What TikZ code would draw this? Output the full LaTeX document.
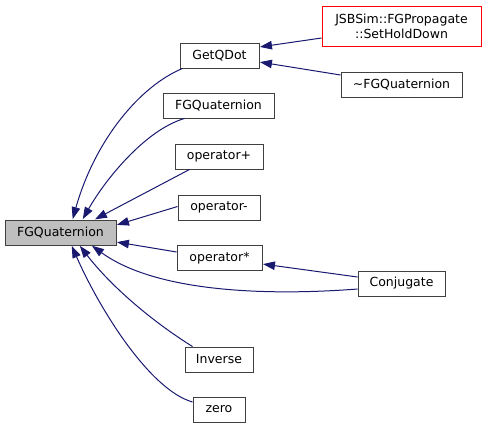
\documentclass[tikz,border=0pt]{standalone}
\usepackage{fontspec}
\setmainfont{DejaVu Sans}
\usetikzlibrary{arrows.meta}
\definecolor{edgeblue}{HTML}{191970}
\definecolor{boxgray}{HTML}{404040}
\tikzset{
  box/.style={draw=boxgray, line width=0.9pt, fill=white, inner sep=0pt, minimum height=25pt,
    font=\fontsize{12.5}{15}\selectfont, text=black, align=center},
  edge/.style={draw=edgeblue, line width=1pt, -{Triangle[length=12pt,width=8.5pt]}, shorten >=0.5pt},
}
\begin{document}
\begin{tikzpicture}[x=1pt,y=-1pt]
\useasboundingbox (0,0) rectangle (487,429);
\node[box, fill={rgb,255:red,191;green,191;blue,191}, minimum width=111pt] (fg) at (60.5,232.5) {FGQuaternion};
\node[box, minimum width=79pt] (getqdot) at (219.5,55.5) {GetQDot};
\node[box, minimum width=111pt] (fgq2) at (218.5,105.5) {FGQuaternion};
\node[box, minimum width=88pt] (opplus) at (219,156.5) {operator+};
\node[box, minimum width=82pt] (opminus) at (219,207.5) {operator-};
\node[box, minimum width=85pt] (opstar) at (219.5,258) {operator*};
\node[box, minimum width=68pt] (inverse) at (219,359.5) {Inverse};
\node[box, minimum width=52pt] (zero) at (219,409.5) {zero};
\node[box, draw=red, minimum width=159pt, minimum height=40pt] (jsb) at (401.5,26) {JSBSim::FGPropagate\\::SetHoldDown};
\node[box, minimum width=121pt] (tilde) at (401.5,84.5) {\textasciitilde FGQuaternion};
\node[box, minimum width=87pt] (conj) at (401.5,283.5) {Conjugate};

\draw[edge] ([xshift=3pt]getqdot.south west) .. controls (140,86) and (95,140) .. ([xshift=68pt]fg.north west);
\draw[edge] ([xshift=22pt]fgq2.south west) .. controls (145,130) and (105,180) .. ([xshift=78pt]fg.north west);
\draw[edge] ([xshift=15pt]opplus.south west) -- ([xshift=90pt]fg.north west);
\draw[edge] ([yshift=1pt]opminus.west) -- ([yshift=7.5pt]fg.east);
\draw[edge] ([yshift=6pt]opstar.west) -- ([yshift=-9.5pt]fg.east);
\draw[edge] ([yshift=-5.5pt]conj.west) .. controls (280,295) and (160,295) .. ([xshift=87pt]fg.south west);
\draw[edge] ([xshift=8pt]inverse.north west) .. controls (150,320) and (110,285) .. ([xshift=75pt]fg.south west);
\draw[edge] ([yshift=7.5pt]zero.west) .. controls (150,390) and (100,310) .. ([xshift=67pt]fg.south west);
\draw[edge] ([yshift=-12pt]jsb.west) -- ([yshift=8.5pt]getqdot.east);
\draw[edge] ([yshift=9.5pt]tilde.west) -- ([yshift=-6.5pt]getqdot.east);
\draw[edge] ([yshift=6.5pt]conj.west) -- ([yshift=-6pt]opstar.east);
\end{tikzpicture}
\end{document}
